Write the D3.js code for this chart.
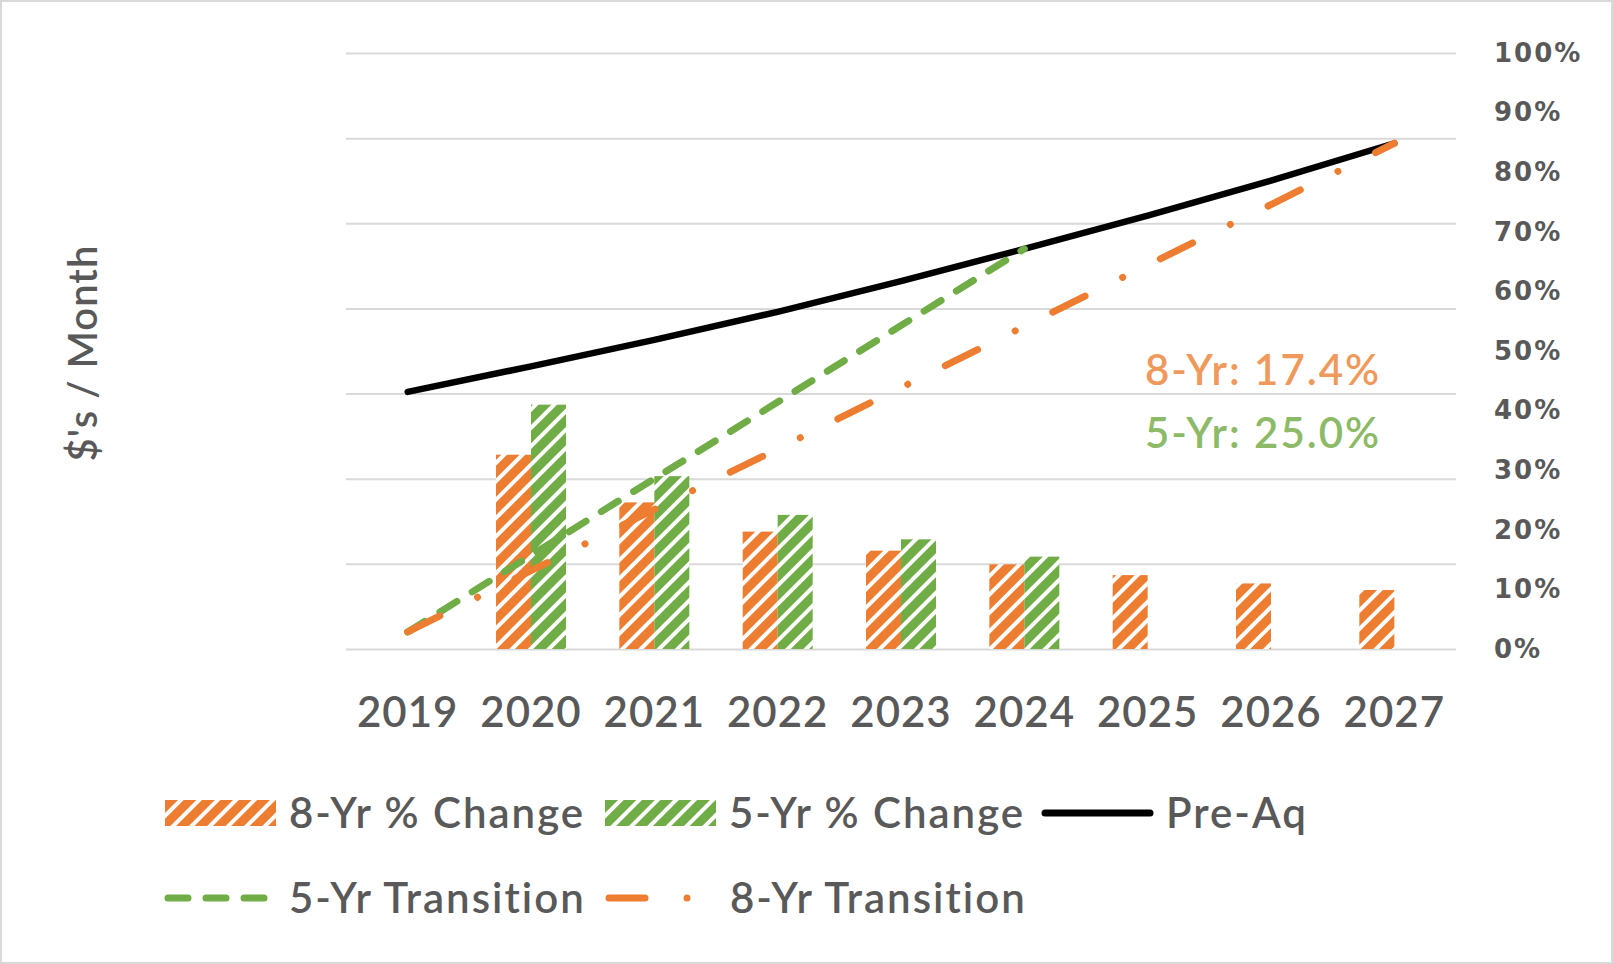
<!DOCTYPE html>
<html>
<head>
<meta charset="utf-8">
<script src="https://cdn.jsdelivr.net/npm/d3@7"></script>
<style>
  body { margin: 0; background: #fff; }
  text { font-family: Lato, "Open Sans", sans-serif; fill: #595959; font-weight: 600; letter-spacing: 1px; }
  .wide { letter-spacing: 2px; }
  .yright text { font-family: "DejaVu Sans", sans-serif; font-size: 26px; font-weight: bold; letter-spacing: 2px; }
</style>
</head>
<body>
<div id="vis"></div>
<script>

const years = ["2019", "2020", "2021", "2022", "2023", "2024", "2025", "2026", "2027"]
// bar values (right axis, fraction)
const change8 = [null, 0.326, 0.246, 0.197, 0.165, 0.142, 0.124, 0.110, 0.099]
const change5 = [null, 0.410, 0.290, 0.225, 0.184, 0.155, null, null, null]
// line values (left axis, $ / month, labels hidden)
const preAq = [502, 532, 563, 596, 632, 670, 709, 750, 794]
const trans5 = [220, 310, 400, 490, 580, 670, null, null, null]
const trans8 = [220, 292, 364, 435, 507, 579, 651, 722, 794]
const leftTicks = [200, 300, 400, 500, 600, 700, 800, 900]
const rightTicks = [0, 0.1, 0.2, 0.3, 0.4, 0.5, 0.6, 0.7, 0.8, 0.9, 1.0]
const notes = ["8-Yr: 17.4%", "5-Yr: 25.0%"]

const W = 1613, H = 964
const plot = {left: 346, right: 1456, top: 53, bottom: 649}
const orange = "#ED7D31", green = "#70AD47"

const svg = d3.select("#vis").append("svg")
    .attr("width", W)
    .attr("height", H)

// hatch patterns (wide upward diagonal)
const defs = svg.append("defs")
function hatch(id, color) {
    const p = defs.append("pattern")
        .attr("id", id)
        .attr("patternUnits", "userSpaceOnUse")
        .attr("width", 13)
        .attr("height", 13)
        .attr("patternTransform", "rotate(45)")
    p.append("rect").attr("width", 13).attr("height", 13).attr("fill", color)
    p.append("rect").attr("x", 0).attr("width", 4).attr("height", 13).attr("fill", "#fff")
}
hatch("hatch8", orange)
hatch("hatch5", green)

svg.append("rect")
    .attr("x", 1).attr("y", 1)
    .attr("width", W - 2).attr("height", H - 2)
    .attr("fill", "#fff")
    .attr("stroke", "#d9d9d9")
    .attr("stroke-width", 2)

const x = d3.scaleBand()
    .domain(years)
    .range([plot.left, plot.right])

const groupW = 70
const xSub = d3.scaleBand()
    .domain(["8", "5"])
    .range([(x.bandwidth() - groupW) / 2, (x.bandwidth() + groupW) / 2])

const yLeft = d3.scaleLinear()
    .domain([200, 900])
    .range([plot.bottom, plot.top])

const yRight = d3.scaleLinear()
    .domain([0, 1])
    .range([plot.bottom, plot.top])

// gridlines from the hidden left axis
const grid = svg.append("g")
    .attr("transform", `translate(${plot.left},0)`)
    .call(d3.axisLeft(yLeft).tickValues(leftTicks).tickSize(-(plot.right - plot.left)).tickFormat(""))
grid.select(".domain").remove()
grid.selectAll("line").attr("stroke", "#d9d9d9").attr("stroke-width", 2)

// right axis
const yAxis = svg.append("g")
    .attr("class", "yright")
    .attr("transform", `translate(${plot.right},0)`)
    .call(d3.axisRight(yRight).tickValues(rightTicks).tickFormat(d3.format(".0%")).tickSize(0).tickPadding(38))
yAxis.select(".domain").remove()
yAxis.selectAll("text").attr("fill", "#595959")

// x axis
const xAxis = svg.append("g")
    .attr("transform", `translate(0,${plot.bottom})`)
    .call(d3.axisBottom(x).tickSize(0).tickPadding(48))
xAxis.select(".domain").remove()
xAxis.selectAll("text")
    .attr("fill", "#595959")
    .style("font-size", "42px")
    .style("font-family", "Lato, sans-serif")

// y axis title
svg.append("text")
    .attr("transform", "translate(97,353) rotate(-90)")
    .attr("text-anchor", "middle")
    .style("font-size", "40px")
    .text("$'s / Month")

// bars
const barData = []
years.forEach((yr, i) => {
    if (change8[i] != null) barData.push({year: yr, key: "8", v: change8[i]})
    if (change5[i] != null) barData.push({year: yr, key: "5", v: change5[i]})
})

svg.append("g").selectAll("rect")
    .data(barData)
    .enter()
    .append("rect")
    .attr("x", d => x(d.year) + xSub(d.key))
    .attr("y", d => yRight(d.v))
    .attr("width", xSub.bandwidth())
    .attr("height", d => yRight(0) - yRight(d.v))
    .attr("fill", d => d.key == "8" ? "url(#hatch8)" : "url(#hatch5)")

// lines
function series(vals) {
    return years.map((yr, i) => ({year: yr, v: vals[i]})).filter(d => d.v != null)
}
const line = d3.line()
    .x(d => x(d.year) + x.bandwidth() / 2)
    .y(d => yLeft(d.v))

svg.append("path")
    .datum(series(preAq))
    .attr("d", line)
    .attr("fill", "none")
    .attr("stroke", "#000")
    .attr("stroke-width", 6.5)
    .attr("stroke-linecap", "round")
    .attr("stroke-linejoin", "round")

svg.append("path")
    .datum(series(trans5))
    .attr("d", line)
    .attr("fill", "none")
    .attr("stroke", green)
    .attr("stroke-width", 7)
    .attr("stroke-linecap", "round")
    .attr("stroke-dasharray", "20,18")

svg.append("path")
    .datum(series(trans8))
    .attr("d", line)
    .attr("fill", "none")
    .attr("stroke", orange)
    .attr("stroke-width", 7)
    .attr("stroke-linecap", "round")
    .attr("stroke-dasharray", "36,42,0.01,42")

// annotations
svg.append("text")
    .attr("class", "wide")
    .attr("x", 1145).attr("y", 385)
    .style("font-size", "42px")
    .style("fill", "#EF9A5C")
    .text(notes[0])

svg.append("text")
    .attr("class", "wide")
    .attr("x", 1145).attr("y", 448)
    .style("font-size", "42px")
    .style("fill", "#8CBA67")
    .text(notes[1])

// legend
const legend = [
    {label: "8-Yr % Change", type: "bar", fill: "url(#hatch8)", x: 165, row: 0},
    {label: "5-Yr % Change", type: "bar", fill: "url(#hatch5)", x: 605, row: 0},
    {label: "Pre-Aq", type: "line", color: "#000", dash: null, x: 1042, row: 0},
    {label: "5-Yr Transition", type: "line", color: green, dash: "20,18", x: 165, row: 1},
    {label: "8-Yr Transition", type: "line", color: orange, dash: "36,42,0.01,42", x: 606, row: 1}
]
const rowY = [813, 898]
const swW = 111

const lg = svg.append("g").selectAll("g")
    .data(legend)
    .enter()
    .append("g")
    .attr("transform", d => `translate(${d.x},${rowY[d.row]})`)

lg.filter(d => d.type == "bar")
    .append("rect")
    .attr("x", 0).attr("y", -13)
    .attr("width", swW).attr("height", 26)
    .attr("fill", d => d.fill)

lg.filter(d => d.type == "line")
    .append("line")
    .attr("x1", 3).attr("x2", swW - 3)
    .attr("stroke", d => d.color)
    .attr("stroke-width", 7)
    .attr("stroke-linecap", "round")
    .attr("stroke-dasharray", d => d.dash)

lg.append("text")
    .attr("class", "wide")
    .attr("x", swW + 13)
    .attr("y", 15)
    .style("font-size", "42px")
    .text(d => d.label)

</script>
</body>
</html>
